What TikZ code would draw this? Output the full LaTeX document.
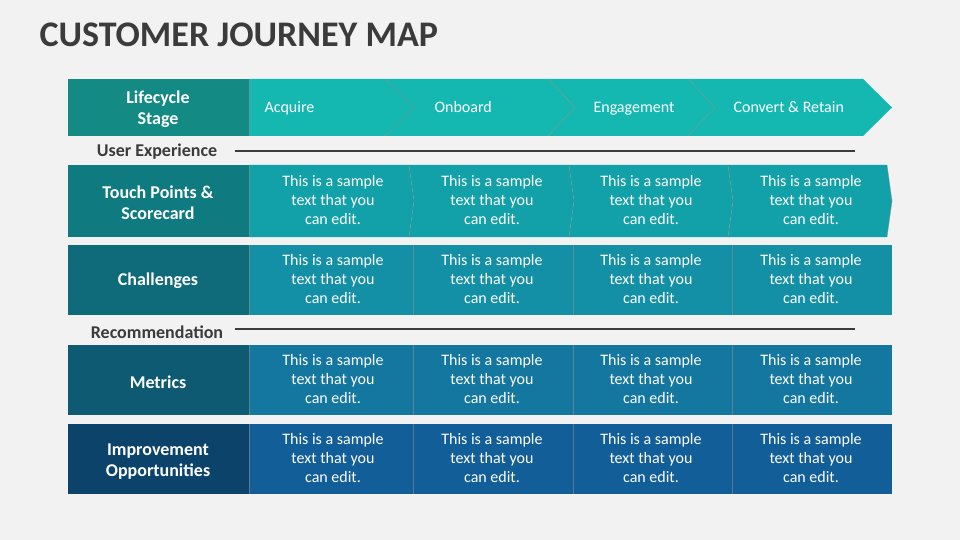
\documentclass[tikz,border=0pt]{standalone}
\usepackage{fontspec}
\setmainfont{Carlito}
\usetikzlibrary{positioning}
\definecolor{bgcol}{HTML}{F2F2F2}
\definecolor{titlecol}{HTML}{3B3B3B}
\definecolor{headL}{HTML}{138A83}
\definecolor{headC}{HTML}{14B8B0}
\definecolor{touchL}{HTML}{0F7A7F}
\definecolor{touchC}{HTML}{13A1A9}
\definecolor{chalL}{HTML}{0F6B7A}
\definecolor{chalC}{HTML}{1490A6}
\definecolor{metL}{HTML}{0D5A72}
\definecolor{metC}{HTML}{1477A0}
\definecolor{impL}{HTML}{0B436B}
\definecolor{impC}{HTML}{125E98}
\tikzstyle{rowlabel}=[text=white, font=\fontsize{18}{21}\selectfont\bfseries, align=center]
\tikzstyle{stage}=[text=white, font=\fontsize{16}{19}\selectfont, anchor=base west]
\tikzstyle{celltext}=[text=white, font=\fontsize{16}{19}\selectfont, align=center]
\tikzstyle{section}=[text=titlecol, font=\fontsize{18}{20}\selectfont\bfseries]
\tikzstyle{rule}=[draw=titlecol, line width=2pt]
\tikzstyle{divider}=[draw=black!45, line width=0.6pt, opacity=0.6]

\begin{document}
\begin{tikzpicture}[x=1pt, y=-1pt]
      \fill[bgcol] (0,0) rectangle (960,540);
      \useasboundingbox (0,0) rectangle (960,540);

      \node[anchor=west, text=titlecol, font=\fontsize{36}{40}\selectfont\bfseries] (title) at (36,35) {CUSTOMER JOURNEY MAP};

      % lifecycle row
      \fill[headL] (68,79) rectangle (249,136);
      \node[rowlabel] (lifecycle) at (158,109) {Lifecycle\\Stage};
      \fill[headC] (688,79) -- (863,79) -- (892,107.5) -- (863,136) -- (688,136) -- (715,107.5) -- cycle;
      \fill[headC] (548,79) -- (688,79) -- (715,107.5) -- (688,136) -- (548,136) -- (575,107.5) -- cycle;
      \fill[headC] (385,79) -- (548,79) -- (575,107.5) -- (548,136) -- (385,136) -- (413,107.5) -- cycle;
      \fill[headC] (249,79) -- (385,79) -- (415,107.5) -- (385,136) -- (249,136) -- cycle;
      \draw[divider] (385,79) -- (415,107.5) -- (385,136);
      \draw[divider] (548,79) -- (575,107.5) -- (548,136);
      \draw[divider] (688,79) -- (715,107.5) -- (688,136);
      \node[stage] (acquire) at (261,113) {Acquire};
      \node[stage] (onboard) at (431,113) {Onboard};
      \node[stage] (engage) at (590,113) {Engagement};
      \node[stage] (convert) at (730,113) {Convert \& Retain};

      % user experience
      \node[section] (userexp) at (157,152) {User Experience};
      \coordinate (ux1) at (235,151);
      \coordinate (ux2) at (855,151);
      \draw[rule] (ux1) -- (ux2);

      % touch points row
      \fill[touchL] (68,165) rectangle (249,237);
      \node[rowlabel] (touch) at (158,203) {Touch Points \&\\Scorecard};
      \foreach \a/\b [count=\i] in {728/887, 569/728, 409/569, 249/409}{
        \fill[touchC] (\a,165) -- (\b,165) -- (\b+5,201) -- (\b,237) -- (\a,237) -- (\a+5,201) -- cycle;
        \draw[divider] (\b,165) -- (\b+5,201) -- (\b,237);
      }
      \fill[touchC] (249,165) rectangle (256,237);
      \foreach \x [count=\i] in {333,492,651,811}{
        \node[celltext] (tp\i) at (\x,200) {This is a sample\\text that you\\can edit.};
      }

      % challenges row
      \fill[chalL] (68,245) rectangle (249,315);
      \node[rowlabel] (challenges) at (158,281) {Challenges};
      \fill[chalC] (249,245) rectangle (892,315);
      \foreach \x in {413,573,732}{
        \draw[divider] (\x,245) -- (\x,315);
      }
      \foreach \x [count=\i] in {333,492,651,811}{
        \node[celltext] (ch\i) at (\x,279) {This is a sample\\text that you\\can edit.};
      }

      % recommendation
      \node[section] (recomm) at (157,332) {Recommendation};
      \coordinate (rc1) at (235,329);
      \coordinate (rc2) at (855,329);
      \draw[rule] (rc1) -- (rc2);

      % metrics row
      \fill[metL] (68,345) rectangle (249,415);
      \node[rowlabel] (metrics) at (158,382) {Metrics};
      \fill[metC] (249,345) rectangle (892,415);
      \foreach \x in {413,573,732}{
        \draw[divider] (\x,345) -- (\x,415);
      }
      \foreach \x [count=\i] in {333,492,651,811}{
        \node[celltext] (mt\i) at (\x,379) {This is a sample\\text that you\\can edit.};
      }

      % improvement row
      \fill[impL] (68,424) rectangle (249,494);
      \node[rowlabel] (improve) at (158,462) {Improvement\\Opportunities};
      \fill[impC] (249,424) rectangle (892,494);
      \foreach \x in {413,573,732}{
        \draw[divider] (\x,424) -- (\x,494);
      }
      \foreach \x [count=\i] in {333,492,651,811}{
        \node[celltext] (im\i) at (\x,458) {This is a sample\\text that you\\can edit.};
      }
      \draw[divider] (249,79) -- (249,136);
      \foreach \y/\z in {165/237,245/315,345/415,424/494}{
        \draw[divider] (249,\y) -- (249,\z);
      }
\end{tikzpicture}
\end{document}
